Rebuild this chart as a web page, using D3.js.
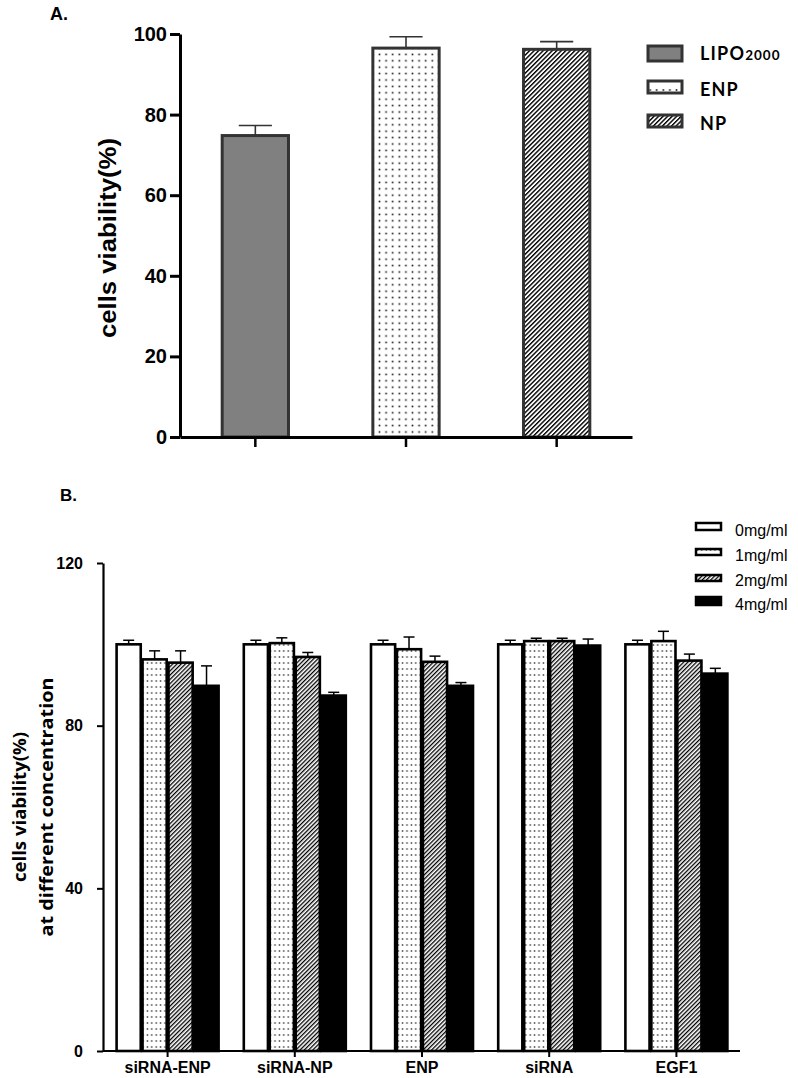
<!DOCTYPE html>
<html>
<head>
<meta charset="utf-8">
<script src="https://cdn.jsdelivr.net/npm/d3@7"></script>
<style>
  html, body { margin: 0; padding: 0; background: #fff; }
  svg { display: block; }
</style>
</head>
<body>
<script>
// ---------- Panel A data ----------
const catsA = ["LIPO2000", "ENP", "NP"];
const valuesA = [74.8, 96.5, 96.2];
const errorsA = [2.5, 2.8, 1.9];
const ticksA = [0, 20, 40, 60, 80, 100];

// ---------- Panel B data ----------
const groupsB = ["siRNA-ENP", "siRNA-NP", "ENP", "siRNA", "EGF1"];
const seriesB = ["0mg/ml", "1mg/ml", "2mg/ml", "4mg/ml"];
const values0mg = [100.0, 100.0, 100.0, 100.0, 100.0];
const values1mg = [96.3, 100.3, 98.8, 100.8, 100.8];
const values2mg = [95.5, 96.9, 95.7, 100.8, 96.0];
const values4mg = [89.8, 87.4, 89.8, 99.7, 92.8];
const errors0mg = [1.0, 1.0, 1.0, 1.0, 1.0];
const errors1mg = [2.1, 1.3, 3.0, 0.7, 2.4];
const errors2mg = [2.9, 1.1, 1.4, 0.7, 1.6];
const errors4mg = [4.9, 0.8, 0.8, 1.6, 1.3];
const ticksB = [0, 40, 80, 120];

const W = 798, H = 1078;
const svg = d3.select("body").append("svg").attr("width", W).attr("height", H);
const defs = svg.append("defs");

// patterns
function dotPattern(id, w, h, r, color) {
  const p = defs.append("pattern").attr("id", id).attr("patternUnits", "userSpaceOnUse")
    .attr("width", w).attr("height", h);
  p.append("rect").attr("width", w).attr("height", h).attr("fill", "#fff");
  p.append("rect").attr("x", w / 2 - r).attr("y", h / 2 - r).attr("width", 2 * r).attr("height", 2 * r).attr("fill", color);
}
function hatchPattern(id, s, lw, color) {
  const p = defs.append("pattern").attr("id", id).attr("patternUnits", "userSpaceOnUse")
    .attr("width", s).attr("height", s).attr("patternTransform", "rotate(45)");
  p.append("rect").attr("width", s).attr("height", s).attr("fill", "#fff");
  p.append("rect").attr("x", 0).attr("y", 0).attr("width", lw).attr("height", s).attr("fill", color);
}
dotPattern("dotsA", 6.6, 6.4, 0.8, "#111");
hatchPattern("hatchA", 3.2, 1.4, "#000");
dotPattern("dotsB", 4.4, 6.0, 0.7, "#222");
hatchPattern("hatchB", 3.0, 1.3, "#000");
dotPattern("dotsLegA", 6.6, 20, 0.8, "#111");
dotPattern("dotsLegB", 4.4, 20, 0.7, "#222");

const ARIAL = "Liberation Sans, Arial, sans-serif";

// ================= Panel A =================
const gA = svg.append("g");
const xA = d3.scaleBand().domain(catsA).range([180, 632]).paddingInner(0.56).paddingOuter(0.28);
const yA = d3.scaleLinear().domain([0, 100]).range([437, 34]);
const fillsA = ["#808080", "url(#dotsA)", "url(#hatchA)"];

gA.append("text").attr("x", 50).attr("y", 20).text("A.")
  .attr("font-family", ARIAL).attr("font-weight", "bold").attr("font-size", 18);

// error bars
catsA.forEach((c, i) => {
  const cx = xA(c) + xA.bandwidth() / 2;
  const top = yA(valuesA[i] + errorsA[i]);
  gA.append("line").attr("x1", cx).attr("x2", cx).attr("y1", yA(valuesA[i])).attr("y2", top)
    .attr("stroke", "#333").attr("stroke-width", 1.6);
  gA.append("line").attr("x1", cx - xA.bandwidth() / 4).attr("x2", cx + xA.bandwidth() / 4)
    .attr("y1", top).attr("y2", top).attr("stroke", "#333").attr("stroke-width", 1.6);
});

gA.selectAll("rect.bar").data(catsA).join("rect").attr("class", "bar")
  .attr("x", d => xA(d)).attr("width", xA.bandwidth())
  .attr("y", (d, i) => yA(valuesA[i])).attr("height", (d, i) => yA(0) - yA(valuesA[i]))
  .attr("fill", (d, i) => fillsA[i]).attr("stroke", "#333").attr("stroke-width", 3);

const axAy = gA.append("g").attr("transform", "translate(180,0)")
  .call(d3.axisLeft(yA).tickValues(ticksA).tickSize(10).tickSizeOuter(0).tickPadding(3));
axAy.selectAll("text").attr("font-family", ARIAL).attr("font-weight", "bold")
  .attr("font-size", 20).attr("fill", "#000");
axAy.selectAll("line").attr("stroke-width", 3).attr("stroke", "#000");
axAy.select(".domain").attr("stroke-width", 3).attr("stroke", "#000");

const axAx = gA.append("g").attr("transform", "translate(0,437)")
  .call(d3.axisBottom(xA).tickSize(10).tickSizeOuter(0).tickFormat(""));
axAx.selectAll("line").attr("stroke-width", 2.5).attr("stroke", "#000");
axAx.select(".domain").attr("stroke-width", 3).attr("stroke", "#000");

gA.append("text").attr("transform", "translate(116,238) rotate(-90)").attr("text-anchor", "middle")
  .text("cells viability(%)")
  .attr("textLength", 200).attr("lengthAdjust", "spacingAndGlyphs")
  .attr("font-family", ARIAL).attr("font-weight", "bold").attr("font-size", 23).attr("fill", "#000");

// legend A
const legA = [
  { y: 46, h: 15, fill: "#808080", label: "LIPO", sub: "2000", base: 60 },
  { y: 81, h: 12, fill: "url(#dotsLegA)", label: "ENP", sub: "", base: 95.5 },
  { y: 115, h: 12, fill: "url(#hatchA)", label: "NP", sub: "", base: 130 }
];
legA.forEach(d => {
  gA.append("rect").attr("x", 648).attr("y", d.y).attr("width", 34).attr("height", d.h)
    .attr("fill", d.fill).attr("stroke", "#333").attr("stroke-width", 3);
  const t = gA.append("text").attr("x", 700).attr("y", d.base)
    .attr("font-family", "Lato, 'Open Sans', sans-serif").attr("font-weight", "bold").attr("font-size", 18)
    .attr("letter-spacing", 1.2).attr("fill", "#000");
  t.append("tspan").text(d.label);
  if (d.sub) t.append("tspan").attr("font-size", 13.5).attr("letter-spacing", 1).text(d.sub);
});

// ================= Panel B =================
const gB = svg.append("g");
const x0 = d3.scaleBand().domain(groupsB).range([104, 740]);
const x1 = d3.scaleBand().domain(seriesB).range([-51, 51]).paddingInner(0.07);
const yB = d3.scaleLinear().domain([0, 120]).range([1051, 563]);
const valsB = [values0mg, values1mg, values2mg, values4mg];
const errsB = [errors0mg, errors1mg, errors2mg, errors4mg];
const fillsB = ["#fff", "url(#dotsB)", "url(#hatchB)", "#000"];

gB.append("text").attr("x", 60).attr("y", 501).text("B.")
  .attr("font-family", ARIAL).attr("font-weight", "bold").attr("font-size", 17);

groupsB.forEach((g, gi) => {
  const cx0 = x0(g) + x0.bandwidth() / 2;
  seriesB.forEach((s, si) => {
    const v = valsB[si][gi], e = errsB[si][gi];
    const bx = cx0 + x1(s);
    const cx = bx + x1.bandwidth() / 2;
    const top = yB(v + e);
    gB.append("line").attr("x1", cx).attr("x2", cx).attr("y1", yB(v)).attr("y2", top)
      .attr("stroke", "#000").attr("stroke-width", 1.5);
    gB.append("line").attr("x1", cx - 5.5).attr("x2", cx + 5.5).attr("y1", top).attr("y2", top)
      .attr("stroke", "#000").attr("stroke-width", 1.5);
    gB.append("rect").attr("x", bx).attr("width", x1.bandwidth())
      .attr("y", yB(v)).attr("height", yB(0) - yB(v))
      .attr("fill", fillsB[si]).attr("stroke", "#000").attr("stroke-width", 2.6);
  });
});

const axBy = gB.append("g").attr("transform", "translate(103,0)")
  .call(d3.axisLeft(yB).tickValues(ticksB).tickSize(6).tickSizeOuter(0).tickPadding(14));
axBy.selectAll("text").attr("font-family", ARIAL).attr("font-weight", "bold")
  .attr("font-size", 16).attr("fill", "#000");
axBy.selectAll("line").attr("stroke-width", 2).attr("stroke", "#000");
axBy.select(".domain").attr("stroke-width", 2.2).attr("stroke", "#000");

const axBx = gB.append("g").attr("transform", "translate(0,1051)")
  .call(d3.axisBottom(x0).tickSize(6).tickSizeOuter(0).tickPadding(4.5));
axBx.select(".domain").attr("d", "M103,0H740").attr("stroke-width", 2.2).attr("stroke", "#000");
axBx.selectAll("line").attr("stroke-width", 2).attr("stroke", "#000");
axBx.selectAll("text").attr("font-family", ARIAL).attr("font-weight", "bold")
  .attr("font-size", 16).attr("fill", "#000");

const yl = gB.append("text").attr("transform", "translate(0,807) rotate(-90)").attr("text-anchor", "middle")
  .attr("font-family", "'Open Sans', sans-serif").attr("font-weight", "bold").attr("font-size", 18).attr("fill", "#000");
yl.append("tspan").attr("x", 0).attr("y", 26).attr("textLength", 150).attr("lengthAdjust", "spacingAndGlyphs")
  .text("cells viability(%)");
yl.append("tspan").attr("x", 0).attr("y", 53).attr("textLength", 259).attr("lengthAdjust", "spacingAndGlyphs")
  .text("at different concentration");

// legend B
const legBy = [526.5, 552, 578, 601];
const legBh = [7, 6, 6, 8];
const legBbase = [536, 561, 586, 610];
const legFills = ["#fff", "url(#dotsLegB)", "url(#hatchB)", "#000"];
seriesB.forEach((s, i) => {
  gB.append("rect").attr("x", 696).attr("y", legBy[i] - legBh[i] / 2).attr("width", 25).attr("height", legBh[i])
    .attr("fill", legFills[i]).attr("stroke", "#000").attr("stroke-width", 2.5);
  gB.append("text").attr("x", 735).attr("y", legBbase[i]).text(s)
    .attr("font-family", ARIAL).attr("font-size", 16).attr("fill", "#000");
});
</script>
</body>
</html>
